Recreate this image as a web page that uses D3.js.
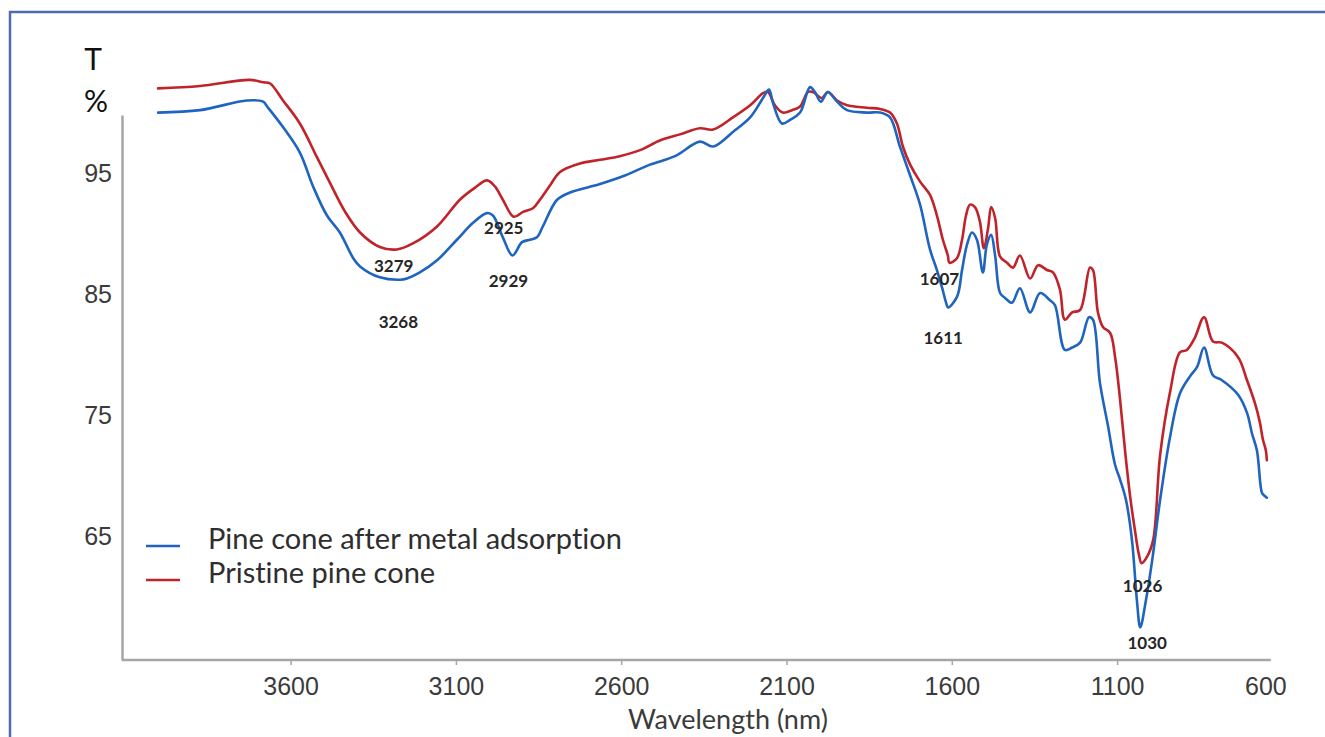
<!DOCTYPE html>
<html>
<head>
<meta charset="utf-8">
<script src="https://cdn.jsdelivr.net/npm/d3@7"></script>
<style>
  html, body { margin: 0; padding: 0; background: #ffffff; }
  svg { display: block; font-family: Lato, "Open Sans", "Liberation Sans", sans-serif;
        font-variant-ligatures: none; font-feature-settings: "liga" 0, "clig" 0; }
</style>
</head>
<body>
<svg id="chart" width="1325" height="737"></svg>
<script>
// FTIR spectra: [wavelength, T %]
const pristine = [
  [4001,102.2],[3874,102.4],[3723,102.9],[3683,102.7],[3662,102.6],[3623,101.2],[3572,99.3],
  [3520,96.5],[3481,94.4],[3435,92.0],[3390,90.3],[3330,89.1],[3279,88.9],[3230,89.4],
  [3157,90.8],[3088,93.0],[3042,94.0],[3006,94.6],[2982,94.1],[2958,93.0],[2925,91.6],
  [2897,92.0],[2867,92.3],[2846,93.0],[2815,94.2],[2785,95.3],[2725,96.0],[2664,96.3],
  [2604,96.6],[2543,97.1],[2483,97.9],[2422,98.4],[2362,98.9],[2322,98.8],[2262,99.8],
  [2210,100.8],[2171,101.8],[2156,101.9],[2135,100.8],[2111,100.2],[2083,100.4],[2059,100.7],
  [2035,101.9],[2020,101.9],[1993,101.4],[1975,101.9],[1947,101.2],[1917,100.8],[1857,100.6],
  [1817,100.5],[1787,100.2],[1766,99.3],[1748,97.4],[1726,95.9],[1696,94.5],[1666,93.4],
  [1645,91.7],[1627,89.7],[1612,88.4],[1607,87.8],[1584,88.2],[1569,89.7],[1557,91.7],
  [1545,92.6],[1530,92.4],[1515,91.2],[1503,89.0],[1490,90.7],[1481,92.4],[1469,91.5],
  [1454,88.3],[1433,87.8],[1415,87.4],[1394,88.4],[1363,86.5],[1339,87.6],[1312,87.2],
  [1294,87.0],[1273,85.6],[1258,83.1],[1236,83.7],[1212,83.9],[1182,87.4],[1173,87.2],
  [1158,83.7],[1143,82.5],[1121,82.0],[1106,80.0],[1091,76.5],[1076,72.3],[1061,68.6],
  [1046,65.7],[1034,63.7],[1026,63.0],[1010,63.5],[991,64.9],[970,71.9],[940,77.1],
  [910,80.4],[889,80.6],[865,81.6],[837,83.3],[810,81.3],[783,81.2],[734,80.0],
  [707,78.1],[683,76.2],[668,74.6],[659,73.2],[650,72.3],[647,71.5]
];

const adsorbed = [
  [4001,100.2],[3874,100.4],[3732,101.2],[3683,101.1],[3671,100.7],[3623,99.0],[3572,96.9],
  [3532,94.1],[3490,91.7],[3451,90.3],[3411,88.2],[3390,87.5],[3330,86.6],[3268,86.4],
  [3248,86.5],[3209,87.0],[3157,88.0],[3097,89.7],[3048,91.1],[3006,91.9],[2988,91.7],
  [2958,89.9],[2929,88.4],[2900,89.5],[2876,89.7],[2855,89.9],[2837,90.8],[2794,93.0],
  [2755,93.6],[2664,94.3],[2589,95.0],[2513,95.9],[2437,96.6],[2362,97.8],[2322,97.4],
  [2262,98.6],[2210,99.8],[2171,101.4],[2153,102.1],[2141,101.0],[2114,99.3],[2089,99.6],
  [2059,100.2],[2029,102.3],[2014,101.9],[1996,101.1],[1975,101.9],[1947,101.1],[1917,100.4],
  [1857,100.2],[1817,100.2],[1787,99.8],[1757,97.4],[1726,95.0],[1696,92.6],[1666,88.9],
  [1645,87.2],[1630,85.8],[1615,84.3],[1611,84.1],[1584,85.0],[1569,87.2],[1554,89.3],
  [1539,90.3],[1524,89.7],[1506,87.0],[1494,89.3],[1481,90.1],[1469,88.4],[1454,85.3],
  [1439,84.9],[1418,84.5],[1394,85.7],[1363,83.7],[1333,85.3],[1303,84.7],[1288,84.3],
  [1258,80.6],[1236,80.8],[1212,81.2],[1185,83.3],[1173,83.1],[1152,77.9],[1128,74.4],
  [1106,71.1],[1091,69.9],[1073,68.2],[1055,64.9],[1040,59.9],[1030,57.7],[1013,59.9],
  [994,63.2],[970,68.2],[940,73.4],[910,77.0],[880,78.4],[858,79.2],[837,80.8],
  [810,78.5],[783,78.1],[734,76.9],[707,75.4],[692,73.7],[677,72.3],[662,68.8],
  [656,68.6],[647,68.4]
];

const xTicks = [3600, 3100, 2600, 2100, 1600, 1100, 600];
const yTicks = [95, 85, 75, 65];
const seriesNames = ["Pine cone after metal adsorption", "Pristine pine cone"];
const seriesColors = ["#1f64be", "#c0232a"];

// band minima marked on each spectrum
const peakLabels = [3279, 3268, 2925, 2929, 1607, 1611, 1026, 1030];
const peakSeries = ["pristine", "adsorbed", "pristine", "adsorbed", "pristine", "adsorbed", "pristine", "adsorbed"];

// label placement relative to the band minimum (px)
const peakOffsets = [[-3, 16], [-2, 42], [-10, 11], [-4, 25], [-10, 16], [-5, 30], [1, 22], [7, 15]];

const svg = d3.select("#chart");
const W = 1325, H = 737;

// outer frame
svg.append("rect")
  .attr("x", 10).attr("y", 12).attr("width", W + 20).attr("height", H + 40)
  .attr("fill", "none").attr("stroke", "#4d6cb0").attr("stroke-width", 2.5);

const x = d3.scaleLinear().domain([4100, 600]).range([125.3, 1282.4]);
const y = d3.scaleLinear().domain([55, 100]).range([660, 115]);

const axisColor = "#a6a6a6";
const textColor = "#3b3b3b";

// x axis
const xAxis = svg.append("g")
  .attr("transform", `translate(0,${y(55)})`)
  .call(d3.axisBottom(x).tickValues(xTicks).tickFormat(d3.format("d")).tickSize(5).tickSizeOuter(0).tickPadding(12));
xAxis.select(".domain").remove();
xAxis.append("line")
  .attr("x1", x(4110)).attr("x2", x(635))
  .attr("stroke", axisColor).attr("stroke-width", 2.5);
xAxis.selectAll(".tick line").attr("stroke", axisColor).attr("stroke-width", 1.5);
xAxis.selectAll(".tick text")
  .attr("fill", textColor).style("font-size", "25px");
// last label is pulled back inside the plot edge, with no tick mark
xAxis.selectAll(".tick").filter(d => d === 600)
  .call(g => g.select("line").remove())
  .call(g => g.select("text").attr("dx", -17));

// y axis
const yAxis = svg.append("g")
  .attr("transform", `translate(122,0)`)
  .call(d3.axisLeft(y).tickValues(yTicks).tickSize(0).tickSizeOuter(0).tickPadding(10));
yAxis.select(".domain").attr("stroke", axisColor).attr("stroke-width", 2.5);
yAxis.selectAll(".tick text")
  .attr("fill", textColor).style("font-size", "25px").attr("dy", "0.22em");

// axis titles
svg.append("text").attr("x", 93).attr("y", 70).attr("text-anchor", "middle")
  .attr("fill", "#111").style("font-size", "30px").text("T");
svg.append("text").attr("x", 96).attr("y", 112).attr("text-anchor", "middle")
  .attr("fill", "#111").style("font-size", "30px").text("%");
svg.append("text").attr("x", 728).attr("y", 729).attr("text-anchor", "middle")
  .attr("fill", textColor).style("font-size", "27px").text("Wavelength (nm)");

// spectra
const line = d3.line()
  .x(d => x(d[0])).y(d => y(d[1]))
  .curve(d3.curveCatmullRom.alpha(0.5));
const series = { adsorbed, pristine };
[["pristine", 1], ["adsorbed", 0]].forEach(([key, i]) => {
  svg.append("path")
    .datum(series[key])
    .attr("d", line)
    .attr("fill", "none")
    .attr("stroke", seriesColors[i])
    .attr("stroke-width", 2.6)
    .attr("stroke-linejoin", "round")
    .attr("stroke-linecap", "round");
});

// band labels
peakLabels.forEach((w, i) => {
  const pt = series[peakSeries[i]].find(d => d[0] === w);
  svg.append("text")
    .attr("x", x(w) + peakOffsets[i][0])
    .attr("y", y(pt[1]) + peakOffsets[i][1])
    .attr("text-anchor", "middle")
    .attr("dominant-baseline", "central")
    .attr("fill", "#262626")
    .style("font-size", "17px")
    .style("font-weight", "bold")
    .text(String(w));
});

// legend
const legend = svg.append("g");
seriesNames.forEach((name, i) => {
  const ly = 546 + i * 34;
  legend.append("line")
    .attr("x1", 146).attr("x2", 180).attr("y1", ly).attr("y2", ly)
    .attr("stroke", seriesColors[i]).attr("stroke-width", 2.6);
  legend.append("text")
    .attr("x", 208).attr("y", ly + 3)
    .attr("fill", "#2e2e2e")
    .style("font-size", "29px")
    .text(name);
});
</script>
</body>
</html>
